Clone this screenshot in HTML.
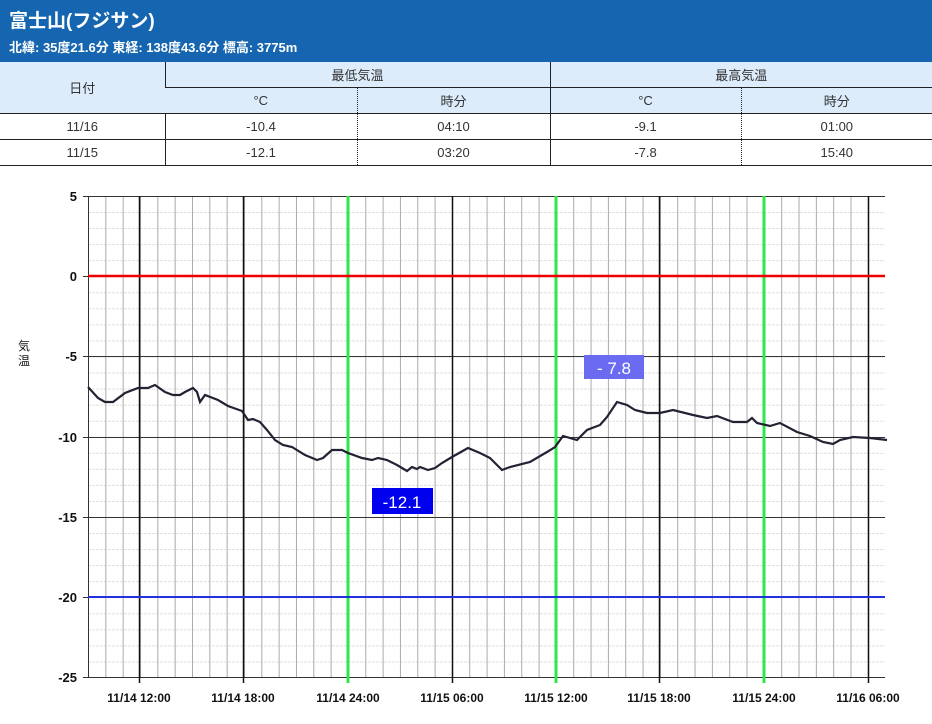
<!DOCTYPE html>
<html><head><meta charset="utf-8"><style>
body{margin:0;width:932px;height:724px;background:#fff;font-family:"Liberation Sans","Noto Sans CJK JP",sans-serif;overflow:hidden;position:relative}
.hd{position:absolute;left:0;top:0;width:932px;height:62px;background:#1565b0;color:#fff}
.t1{position:absolute;left:9px;top:6px;font-size:19px;font-weight:bold}
.t2{position:absolute;left:9px;top:37px;font-size:13px;font-weight:bold}
table{position:absolute;left:0;top:62px;width:932px;border-collapse:collapse;font-size:13px;color:#333;table-layout:fixed}
td{text-align:center;padding:0;border-left:1px solid #222;border-bottom:1px solid #222}
td:first-child{border-left:none}
.h{background:#dcecfb}
.d{border-left:1px dotted #222}
</style></head><body>
<div class="hd"><div class="t1">富士山(フジサン)</div><div class="t2">北緯: 35度21.6分 東経: 138度43.6分 標高: 3775m</div></div>
<table>
<colgroup><col style="width:165px"><col style="width:192px"><col style="width:193px"><col style="width:191px"><col style="width:191px"></colgroup>
<tr style="height:25px"><td class="h" rowspan="2">日付</td><td class="h" colspan="2">最低気温</td><td class="h" colspan="2">最高気温</td></tr>
<tr style="height:26px"><td class="h">°C</td><td class="h d">時分</td><td class="h">°C</td><td class="h d">時分</td></tr>
<tr style="height:26px"><td>11/16</td><td>-10.4</td><td class="d">04:10</td><td>-9.1</td><td class="d">01:00</td></tr>
<tr style="height:26px"><td>11/15</td><td>-12.1</td><td class="d">03:20</td><td>-7.8</td><td class="d">15:40</td></tr>
</table>
<svg width="932" height="724" style="position:absolute;left:0;top:0" font-family="Liberation Sans, Noto Sans CJK JP, sans-serif">
<defs>
<pattern id="ph" patternUnits="userSpaceOnUse" x="88" y="196" width="797" height="16.05">
<line x1="0" x2="797" y1="0.5" y2="0.5" stroke="#e0e0e0" stroke-dasharray="3,1"/>
</pattern>
<pattern id="pv" patternUnits="userSpaceOnUse" x="88" y="196" width="17.33" height="481">
<line x1="0.5" x2="0.5" y1="0" y2="481" stroke="#aaa"/>
</pattern>
</defs>
<rect x="88" y="196" width="797" height="481" fill="url(#ph)"/>
<rect x="88" y="196" width="797" height="481" fill="url(#pv)"/>
<g stroke="#333" stroke-width="1">
<line x1="83" x2="885" y1="196.5" y2="196.5"/>
<line x1="83" x2="885" y1="276.5" y2="276.5"/>
<line x1="83" x2="885" y1="356.5" y2="356.5"/>
<line x1="83" x2="885" y1="437.5" y2="437.5"/>
<line x1="83" x2="885" y1="517.5" y2="517.5"/>
<line x1="83" x2="885" y1="597.5" y2="597.5"/>
<line x1="83" x2="885" y1="677.5" y2="677.5"/>
<line x1="88.5" x2="88.5" y1="196" y2="677"/>
</g>
<g stroke="#111" stroke-width="1.5">
<line x1="139.5" x2="139.5" y1="196" y2="683"/>
<line x1="243.5" x2="243.5" y1="196" y2="683"/>
<line x1="452.5" x2="452.5" y1="196" y2="683"/>
<line x1="659.5" x2="659.5" y1="196" y2="683"/>
<line x1="868.5" x2="868.5" y1="196" y2="683"/>
</g>
<g stroke="#2ee84a" stroke-width="3">
<line x1="348" x2="348" y1="196" y2="683"/>
<line x1="556" x2="556" y1="196" y2="683"/>
<line x1="764" x2="764" y1="196" y2="683"/>
</g>
<line x1="88" x2="885" y1="276" y2="276" stroke="#e00" stroke-width="2.5"/>
<line x1="88" x2="885" y1="597" y2="597" stroke="#2233dd" stroke-width="2"/>
<polyline fill="none" stroke="#222233" stroke-width="2.2" points="88,387 98,398 105,402 113,402 125,393 138,388 148,388 155,385 165,392 173,395 180,395 185,392 193,388 197,392 200,402 205,395 218,400 228,406 242,411 248,420 253,419 260,422 267,430 275,440 283,445 292,447 305,455 317,460 323,458 332,450 342,450 348,453 362,458 372,460 378,458 387,460 397,465 407,471 412,467 417,469 420,467 428,470 435,468 442,463 452,457 468,448 480,453 490,458 502,470 510,467 530,462 547,452 555,447 563,436 577,440 587,430 600,425 607,417 617,402 627,405 635,410 647,413 660,413 673,410 693,415 707,418 717,416 733,422 747,422 752,418 757,423 770,426 780,423 797,432 810,436 823,442 833,444 840,440 853,437 870,438 887,440"/>
<g font-size="13" font-weight="bold" fill="#111" text-anchor="end">
<text x="77" y="201">5</text><text x="77" y="281">0</text><text x="77" y="361">-5</text><text x="77" y="442">-10</text><text x="77" y="522">-15</text><text x="77" y="602">-20</text><text x="77" y="682">-25</text>
</g>
<text x="24" y="350" font-size="12" fill="#111" text-anchor="middle">気</text>
<text x="24" y="365" font-size="12" fill="#111" text-anchor="middle">温</text>
<g font-size="12" font-weight="bold" fill="#111" text-anchor="middle">
<text x="139" y="702">11/14 12:00</text><text x="243" y="702">11/14 18:00</text><text x="348" y="702">11/14 24:00</text><text x="452" y="702">11/15 06:00</text><text x="556" y="702">11/15 12:00</text><text x="659" y="702">11/15 18:00</text><text x="764" y="702">11/15 24:00</text><text x="868" y="702">11/16 06:00</text>
</g>
<rect x="372" y="488" width="61" height="26" fill="#0000ee"/>
<text x="402" y="508" font-size="17" fill="#fff" text-anchor="middle">-12.1</text>
<rect x="584" y="355" width="60" height="24" fill="#6b6bf2"/>
<text x="614" y="374" font-size="17" fill="#fff" text-anchor="middle">- 7.8</text>
</svg>
</body></html>
